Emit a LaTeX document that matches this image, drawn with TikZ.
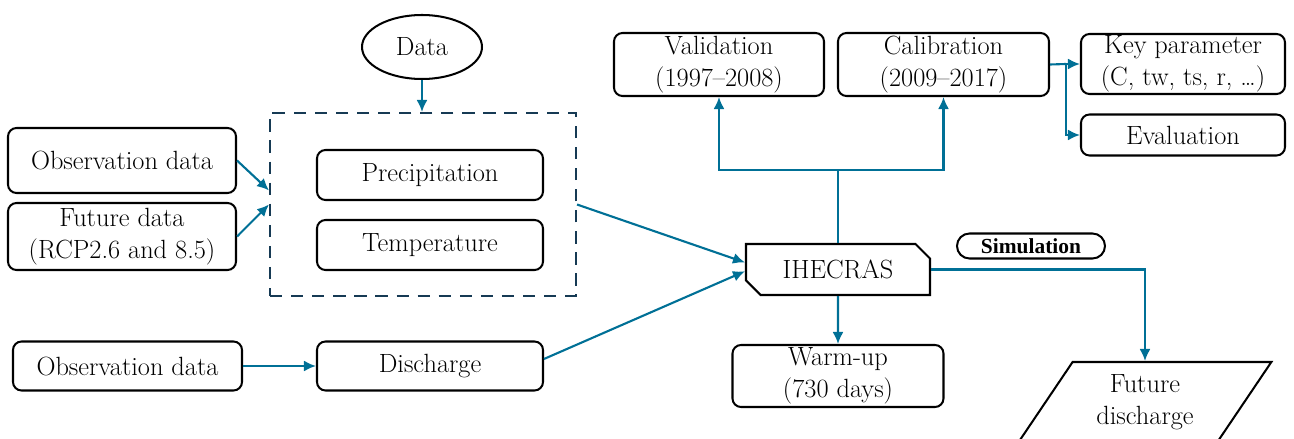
\documentclass[tikz,border=0pt]{standalone}
\usepackage{fontspec}
\newfontfamily\simfont{Liberation Serif}[BoldFont={Liberation Serif Bold}]
\usetikzlibrary{arrows.meta}
\usetikzlibrary{shapes.geometric, shapes.misc}
\usetikzlibrary{positioning}

\definecolor{flowblue}{RGB}{0,112,150}
\definecolor{dashnavy}{RGB}{22,58,84}

\begin{document}
\begin{tikzpicture}[
    box/.style={draw, line width=1.15pt, rounded corners=0.17cm, align=center, inner sep=0pt},
    flow/.style={draw=flowblue, line width=1.2pt, -{Latex[length=2.4mm, width=2.2mm]}},
    font=\fontsize{15}{18.5}\selectfont
  ]
    \useasboundingbox (0,0) rectangle (25.88,-8.78);

    % input side
    \node[draw, ellipse, line width=1.15pt, minimum width=2.4cm, minimum height=1.28cm] (data) at (8.44,-0.94) {Data};
    \node[draw=dashnavy, dashed, line width=1.15pt, dash pattern=on 7pt off 5pt, minimum width=6.12cm, minimum height=3.66cm] (databox) at (8.46,-4.09) {};
    \node[box, minimum width=4.52cm, minimum height=1.0cm] (precip) at (8.60,-3.50) {Precipitation};
    \node[box, minimum width=4.52cm, minimum height=1.0cm] (temp) at (8.60,-4.90) {Temperature};
    \node[box, minimum width=4.56cm, minimum height=1.30cm] (obsclim) at (2.44,-3.21) {Observation data};
    \node[box, minimum width=4.56cm, minimum height=1.34cm] (futclim) at (2.44,-4.73) {Future data\\(RCP2.6 and 8.5)};
    \node[box, minimum width=4.58cm, minimum height=0.98cm] (obsflow) at (2.55,-7.32) {Observation data};
    \node[box, minimum width=4.52cm, minimum height=0.98cm] (discharge) at (8.60,-7.32) {Discharge};

    % model
    \node[draw, line width=1.15pt, chamfered rectangle, chamfered rectangle corners={north east, south west},
          chamfered rectangle xsep=0.2cm, minimum width=3.68cm, minimum height=1.02cm, inner sep=0pt] (ihecras) at (16.76,-5.39) {IHECRAS};
    \node[box, minimum width=4.20cm, minimum height=1.26cm] (valid) at (14.38,-1.29) {Validation\\(1997--2008)};
    \node[box, minimum width=4.22cm, minimum height=1.26cm] (calib) at (18.87,-1.29) {Calibration\\(2009--2017)};
    \node[box, minimum width=4.08cm, minimum height=1.20cm] (keypar) at (23.66,-1.28) {Key parameter\\(C, tw, ts, r, \dots)};
    \node[box, minimum width=4.08cm, minimum height=0.82cm] (evalu) at (23.66,-2.70) {Evaluation};
    \node[box, minimum width=4.22cm, minimum height=1.24cm] (warmup) at (16.76,-7.52) {Warm-up\\(730 days)};
    \node[draw, rounded rectangle, line width=1.15pt, minimum width=2.96cm, minimum height=0.5cm, inner sep=0pt,
          font=\simfont\bfseries\fontsize{12.2}{14}\selectfont] (simul) at (20.62,-4.92) {Simulation};
    \node[draw, trapezium, trapezium left angle=57, trapezium right angle=123, trapezium stretches=true,
          line width=1.15pt, minimum width=5.08cm, minimum height=1.6cm, align=center, inner sep=0pt] (futdis) at (22.90,-8.04) {Future\\discharge};

    \coordinate (split) at (16.76,-3.40);
    \coordinate (branch) at (21.32,-1.28);

    % connectors
    \draw[flow] (data) -- (databox.north -| data);
    \draw[flow] (obsclim.east) -- ([yshift=8pt]databox.west);
    \draw[flow] (futclim.east) -- (databox.west);
    \draw[flow] (obsflow) -- (discharge);
    \draw[flow] (databox.east) -- ([yshift=4pt]ihecras.west);
    \draw[flow] ([yshift=4pt]discharge.east) -- ([yshift=-1pt]ihecras.west);
    \draw[draw=flowblue, line width=1.2pt] (ihecras.north) -- (split);
    \draw[flow] (split) -| (valid.south);
    \draw[flow] (split) -| (calib.south);
    \draw[draw=flowblue, line width=1.2pt] (calib.east) -- (branch);
    \draw[flow] (branch) -- (keypar.west);
    \draw[flow] (branch) |- (evalu.west);
    \draw[flow] (ihecras) -- (warmup);
    \draw[flow] (ihecras.east) -| (futdis.north);
\end{tikzpicture}
\end{document}
